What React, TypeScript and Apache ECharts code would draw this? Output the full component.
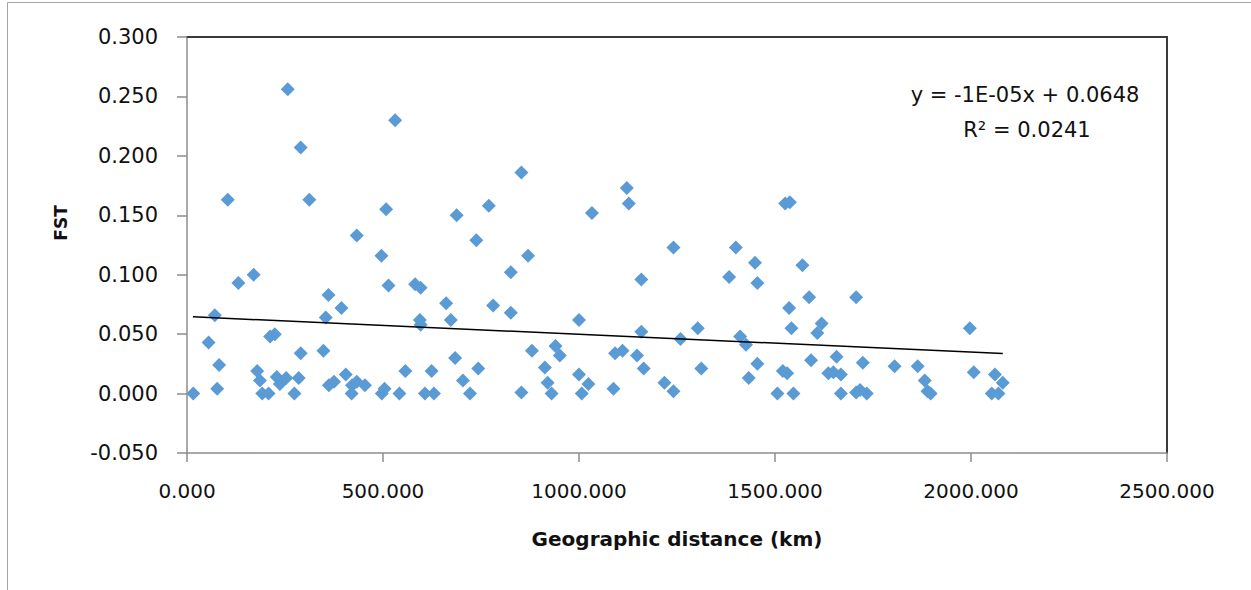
import React, { useEffect, useRef } from "react";
import * as echarts from "echarts";

// Geographic distance (km) and FST for each pair
const distanceKm: number[] = [
  257, 531, 290, 104, 312, 508, 688, 770, 433, 853, 1122, 1127, 1033, 1526, 1538,
  16, 55, 71, 77, 82, 131, 170, 179, 186, 192, 208, 212, 224, 229, 237, 253, 274, 285, 290,
  348, 354, 361, 362, 375, 394, 405, 420, 421, 433, 454, 496, 497, 504, 514, 542, 557, 582,
  596, 594, 596, 607, 630, 624, 661, 673, 684, 704, 722, 738, 743, 781, 826, 826,
  870, 880, 853, 913, 920, 930, 940, 951, 1000, 1000, 1007, 1024, 1088, 1092, 1111, 1148,
  1159, 1159, 1165, 1218, 1241, 1241, 1259, 1303, 1312, 1383, 1400, 1411, 1426, 1433, 1449,
  1455, 1455, 1506, 1520, 1531, 1536, 1542, 1547, 1570, 1587, 1592, 1608, 1619, 1636,
  1649, 1657, 1668, 1668, 1707, 1707, 1717, 1724, 1734, 1805, 1864, 1882, 1889, 1897,
  1997, 2007, 2061, 2081, 2053, 2070,
];
const fstValues: number[] = [
  0.256, 0.230, 0.207, 0.163, 0.163, 0.155, 0.150, 0.158, 0.133, 0.186, 0.173, 0.160, 0.152, 0.160, 0.161,
  0.000, 0.043, 0.066, 0.004, 0.024, 0.093, 0.100, 0.019, 0.011, 0.000, 0.000, 0.048, 0.050, 0.014, 0.008, 0.013, 0.000, 0.013, 0.034,
  0.036, 0.064, 0.083, 0.007, 0.010, 0.072, 0.016, 0.000, 0.007, 0.010, 0.007, 0.116, 0.000, 0.004, 0.091, 0.000, 0.019, 0.092,
  0.089, 0.062, 0.058, 0.000, 0.000, 0.019, 0.076, 0.062, 0.030, 0.011, 0.000, 0.129, 0.021, 0.074, 0.102, 0.068,
  0.116, 0.036, 0.001, 0.022, 0.009, 0.000, 0.040, 0.032, 0.062, 0.016, 0.000, 0.008, 0.004, 0.034, 0.036, 0.032,
  0.096, 0.052, 0.021, 0.009, 0.002, 0.123, 0.046, 0.055, 0.021, 0.098, 0.123, 0.048, 0.041, 0.013, 0.110,
  0.025, 0.093, 0.000, 0.019, 0.017, 0.072, 0.055, 0.000, 0.108, 0.081, 0.028, 0.051, 0.059, 0.017,
  0.018, 0.031, 0.016, 0.000, 0.081, 0.001, 0.003, 0.026, 0.000, 0.023, 0.023, 0.011, 0.002, 0.000,
  0.055, 0.018, 0.016, 0.009, 0.000, 0.000,
];

// Linear trend line endpoints
const trendX: number[] = [15, 2081];
const trendY: number[] = [0.0646, 0.0337];

const equationLines: string[] = ["y = -1E-05x + 0.0648", "R\u00b2 = 0.0241"];
const xAxisTitle = "Geographic distance (km)";
const yAxisTitle = "FST";

const FONT = "'DejaVu Sans', sans-serif";

export default function App() {
  const ref = useRef<HTMLDivElement>(null);

  useEffect(() => {
    if (!ref.current) return;
    const chart = echarts.init(ref.current, undefined, { renderer: "svg" });
    const points = distanceKm.map((d, i) => [d, fstValues[i]]);
    const trend = trendX.map((d, i) => [d, trendY[i]]);

    chart.setOption({
      animation: false,
      backgroundColor: "#ffffff",
      textStyle: { fontFamily: FONT },
      grid: { left: 187, right: 84, top: 37, bottom: 137, containLabel: false },
      xAxis: [
        {
          type: "value",
          position: "bottom",
          min: 0,
          max: 2500,
          interval: 500,
          name: xAxisTitle,
          nameLocation: "middle",
          nameGap: 76,
          nameTextStyle: { fontFamily: FONT, fontSize: 20, fontWeight: "bold", color: "#111111" },
          axisLine: { show: true, onZero: false, lineStyle: { color: "#8c8c8c", width: 1.5 } },
          axisTick: { show: true, inside: false, length: 9, lineStyle: { color: "#8c8c8c", width: 1.5 } },
          axisLabel: {
            fontFamily: FONT,
            fontSize: 20,
            color: "#111111",
            margin: 28,
            formatter: (v: number) => v.toFixed(3),
          },
          splitLine: { show: false },
        },
        {
          type: "value",
          position: "top",
          min: 0,
          max: 2500,
          interval: 500,
          axisLine: { show: true, onZero: false, lineStyle: { color: "#3a3a3a", width: 2 } },
          axisTick: { show: false },
          axisLabel: { show: false },
          splitLine: { show: false },
        },
      ],
      yAxis: [
        {
          type: "value",
          position: "left",
          min: -0.05,
          max: 0.3,
          interval: 0.05,
          axisLine: { show: true, onZero: false, lineStyle: { color: "#8c8c8c", width: 1.5 } },
          axisTick: { show: true, inside: false, length: 10, lineStyle: { color: "#8c8c8c", width: 1.5 } },
          axisLabel: {
            fontFamily: FONT,
            fontSize: 21,
            color: "#111111",
            margin: 29,
            formatter: (v: number) => v.toFixed(3),
          },
          splitLine: { show: false },
        },
        {
          type: "value",
          position: "right",
          min: -0.05,
          max: 0.3,
          interval: 0.05,
          axisLine: { show: true, onZero: false, lineStyle: { color: "#3a3a3a", width: 2 } },
          axisTick: { show: false },
          axisLabel: { show: false },
          splitLine: { show: false },
        },
      ],
      series: [
        {
          type: "scatter",
          name: "FST",
          xAxisIndex: 0,
          yAxisIndex: 0,
          symbol: "diamond",
          symbolSize: 14,
          itemStyle: { color: "#5b9bd5", opacity: 1 },
          data: points,
          z: 2,
        },
        {
          type: "line",
          name: "Linear trend",
          xAxisIndex: 0,
          yAxisIndex: 0,
          data: trend,
          showSymbol: false,
          symbol: "none",
          lineStyle: { color: "#000000", width: 1.5 },
          z: 3,
        },
      ],
      graphic: [
        {
          type: "rect",
          shape: { x: 7.5, y: 2.5, width: 1400, height: 700 },
          style: { fill: "none", stroke: "#a6a6a6", lineWidth: 1 },
          silent: true,
          z: -10,
        },
        {
          type: "text",
          x: 61,
          y: 223,
          rotation: Math.PI / 2,
          style: {
            text: yAxisTitle,
            fontFamily: FONT,
            fontSize: 17,
            fontWeight: "bold",
            fill: "#111111",
            align: "center",
            verticalAlign: "middle",
          },
        },
        {
          type: "text",
          x: 1025,
          y: 95,
          style: {
            text: equationLines[0],
            fontFamily: FONT,
            fontSize: 21,
            fill: "#111111",
            align: "center",
            verticalAlign: "middle",
          },
        },
        {
          type: "text",
          x: 1027,
          y: 130,
          style: {
            text: equationLines[1],
            fontFamily: FONT,
            fontSize: 21,
            fill: "#111111",
            align: "center",
            verticalAlign: "middle",
          },
        },
      ],
    });

    return () => chart.dispose();
  }, []);

  return (
    <div
      ref={ref}
      style={{ position: "absolute", left: 0, top: 0, width: 1251, height: 590, background: "#fff" }}
    />
  );
}
